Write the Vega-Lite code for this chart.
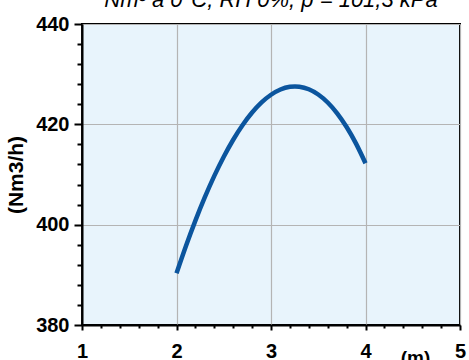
{
  "$schema": "https://vega.github.io/schema/vega-lite/v6.json",
  "width": 378,
  "height": 301,
  "autosize": {"type": "none"},
  "padding": {"left": 82, "top": 24, "right": 9, "bottom": 35},
  "background": "white",
  "config": {
    "view": {"fill": "#e8f4fc", "stroke": "#000000", "strokeWidth": 2},
    "font": "Liberation Sans"
  },
  "title": {
    "text": "Nm³ a 0°C, RH 0%, p = 101,3 kPa",
    "font": "Liberation Sans",
    "fontStyle": "italic",
    "fontWeight": "normal",
    "fontSize": 22,
    "color": "#000000",
    "anchor": "middle",
    "baseline": "alphabetic",
    "offset": 0,
    "dy": 15
  },
  "data": {
    "values": [
      {"x": 2.0, "y": 390.3},
      {"x": 2.1, "y": 395.75},
      {"x": 2.2, "y": 400.81},
      {"x": 2.3, "y": 405.47},
      {"x": 2.4, "y": 409.72},
      {"x": 2.5, "y": 413.54},
      {"x": 2.6, "y": 416.93},
      {"x": 2.7, "y": 419.87},
      {"x": 2.8, "y": 422.35},
      {"x": 2.9, "y": 424.37},
      {"x": 3.0, "y": 425.9},
      {"x": 3.1, "y": 426.94},
      {"x": 3.2, "y": 427.48},
      {"x": 3.3, "y": 427.5},
      {"x": 3.4, "y": 426.99},
      {"x": 3.5, "y": 425.95},
      {"x": 3.6, "y": 424.35},
      {"x": 3.7, "y": 422.2},
      {"x": 3.8, "y": 419.47},
      {"x": 3.9, "y": 416.16},
      {"x": 4.0, "y": 412.25}
    ]
  },
  "layer": [
    {
      "mark": {"type": "line", "color": "#0b559e", "strokeWidth": 4.5, "interpolate": "natural", "strokeCap": "butt"},
      "encoding": {
        "x": {
          "field": "x", "type": "quantitative",
          "scale": {"domain": [1, 5], "nice": false, "zero": false},
          "axis": {
            "orient": "bottom",
            "values": [1, 2, 3, 4, 5],
            "format": "d",
            "title": "(m)",
            "titleFont": "Liberation Sans", "titleFontSize": 19, "titleFontWeight": "bold", "titleColor": "#000",
            "titleAnchor": "start", "titleAlign": "center", "titleBaseline": "alphabetic",
            "titleX": 333, "titleY": 38,
            "labelFont": "Liberation Sans", "labelFontSize": 20, "labelFontWeight": "bold", "labelColor": "#000",
            "labelBaseline": "alphabetic", "labelPadding": 27, "labelFlush": false, "labelOverlap": false,
            "domainColor": "#000", "domainWidth": 2,
            "tickColor": "#000", "tickWidth": 2, "tickSize": 5,
            "grid": true, "gridColor": "#b4b4b4", "gridWidth": 1.2
          }
        },
        "y": {
          "field": "y", "type": "quantitative",
          "scale": {"domain": [380, 440], "nice": false, "zero": false},
          "axis": {
            "orient": "left",
            "values": [380, 400, 420, 440],
            "title": "(Nm3/h)",
            "titleFont": "Liberation Sans", "titleFontSize": 21, "titleFontWeight": "bold", "titleColor": "#000",
            "titlePadding": 9,
            "labelFont": "Liberation Sans", "labelFontSize": 20, "labelFontWeight": "bold", "labelColor": "#000",
            "labelPadding": 5, "labelFlush": false, "labelOverlap": false,
            "domainColor": "#000", "domainWidth": 2,
            "tickColor": "#000", "tickWidth": 2, "tickSize": 8,
            "grid": true, "gridColor": "#b4b4b4", "gridWidth": 1.2
          }
        }
      }
    },
    {
      "mark": {"type": "line", "opacity": 0},
      "encoding": {
        "x": {
          "field": "x", "type": "quantitative",
          "axis": {
            "orient": "bottom",
            "values": [1.2, 1.4, 1.6, 1.8, 2.2, 2.4, 2.6, 2.8, 3.2, 3.4, 3.6, 3.8, 4.2, 4.4, 4.6, 4.8],
            "title": null, "labels": false, "grid": false, "domain": false,
            "tickColor": "#000", "tickWidth": 2, "tickSize": 3
          }
        },
        "y": {
          "field": "y", "type": "quantitative",
          "axis": {
            "orient": "left",
            "values": [384, 388, 392, 396, 404, 408, 412, 416, 424, 428, 432, 436],
            "title": null, "labels": false, "grid": false, "domain": false,
            "tickColor": "#000", "tickWidth": 2, "tickSize": 5
          }
        }
      }
    }
  ],
  "resolve": {"axis": {"x": "independent", "y": "independent"}}
}
